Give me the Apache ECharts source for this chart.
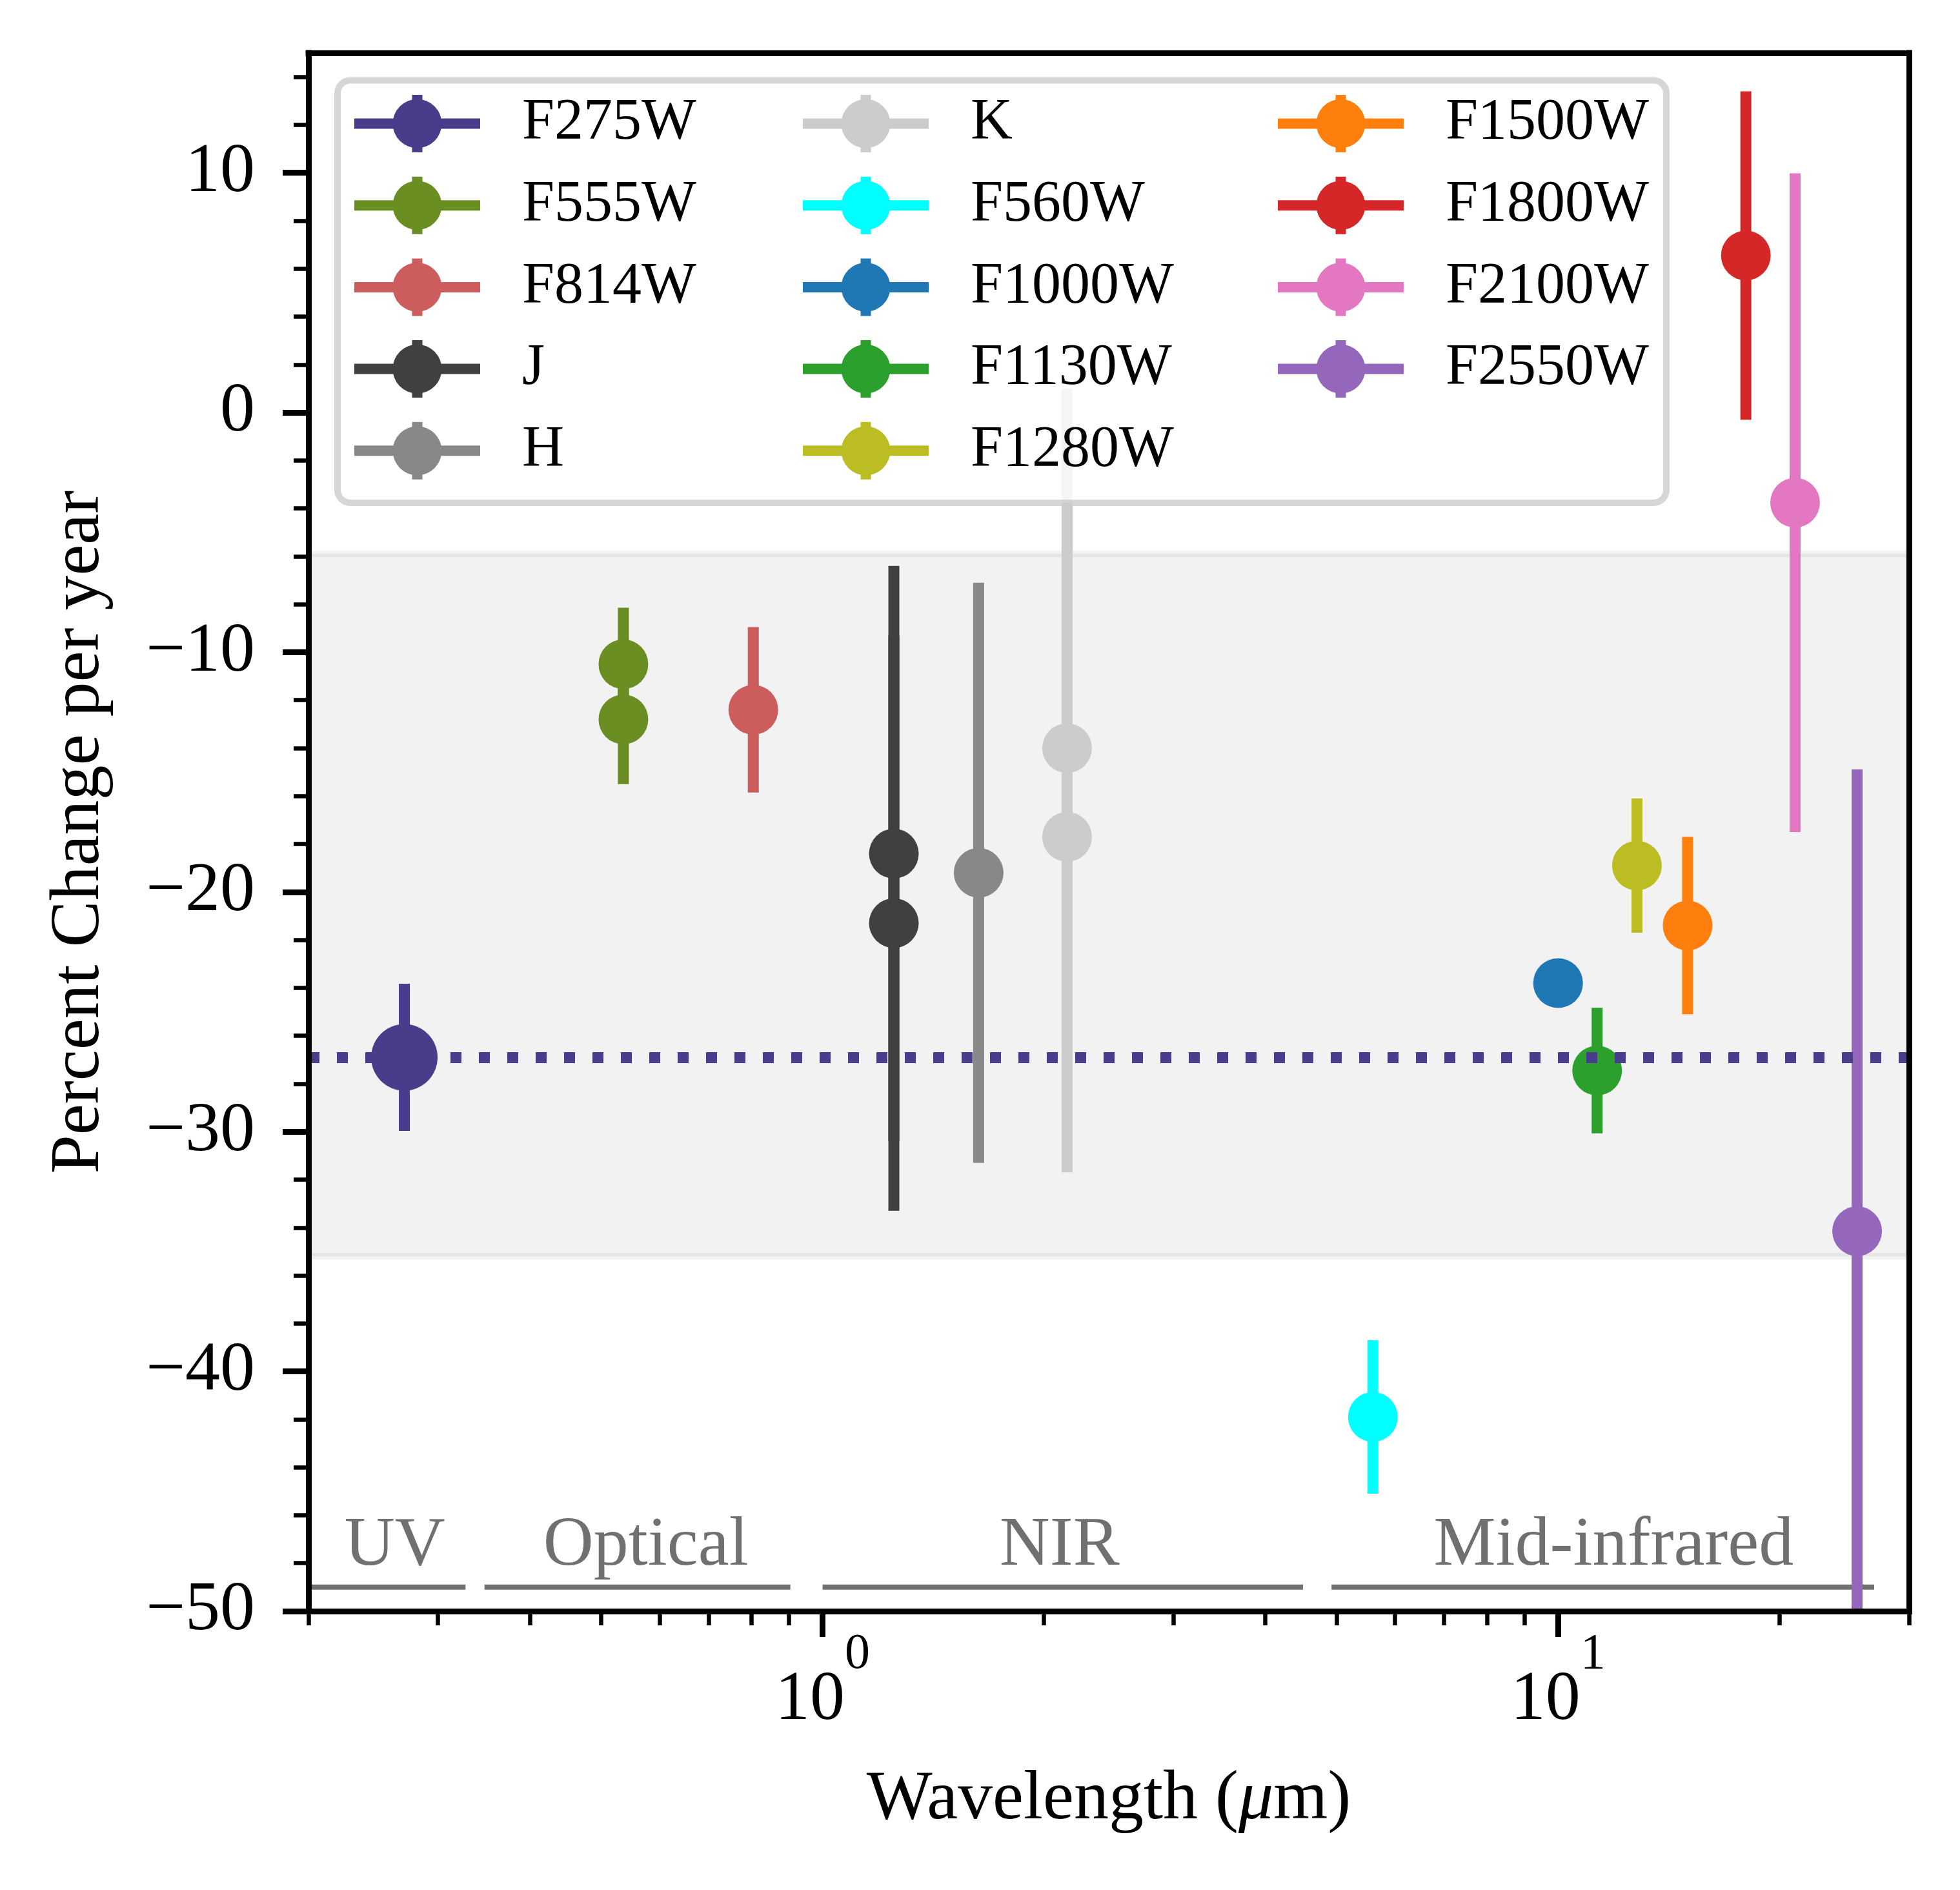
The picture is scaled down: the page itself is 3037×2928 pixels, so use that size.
<!DOCTYPE html>
<html><head><meta charset="utf-8">
<script src="https://cdn.jsdelivr.net/npm/echarts@6/dist/echarts.min.js"></script>
<style>html,body{margin:0;padding:0;background:#fff}#c{width:3037px;height:2928px}</style>
</head><body><div id="c"></div>
<script>
// ---------------- data ----------------
const filters = ['F275W','F555W','F814W','J','H','K','F560W','F1000W','F1130W','F1280W','F1500W','F1800W','F2100W','F2550W'];
const colors = ['#483D8B','#6B8E23','#CD5C5C','#404040','#888888','#cccccc','#00ffff','#1f77b4','#2ca02c','#bcbd22','#ff7f0e','#d62728','#e377c2','#9467bd'];
// one inner list per filter: wavelength (um), percent change per year, 1-sigma error
const wavelengths = [[0.27],[0.536,0.536],[0.805],[1.25,1.25],[1.63],[2.15,2.15],[5.6],[10.0],[11.3],[12.8],[15.0],[18.0],[21.0],[25.5]];
const changes     = [[-26.9],[-10.5,-12.8],[-12.4],[-18.4,-21.3],[-19.2],[-14.0,-17.7],[-41.9],[-23.8],[-27.45],[-18.9],[-21.4],[6.55],[-3.76],[-34.15]];
const errors      = [[3.07],[2.36,2.7],[3.45],[12.0,12.0],[12.1],[15.0,14.0],[3.2],[0.5],[2.62],[2.8],[3.7],[6.85],[13.74],[19.26]];
const referenceLevel = -26.9;
const bandRange = [-35.2, -5.9];
const regionNames  = ['UV','Optical','NIR','Mid-infrared'];
const regionStart  = [0.2, 0.347, 1.0, 4.92];
const regionEnd    = [0.327, 0.904, 4.5, 26.9];
const regionLabelX = [0.262, 0.575, 2.1, 11.9];
const xRange = [0.2, 30];
const yRange = [-50, 15];
const xMajorTicks = [1, 10];
const xTickExponents = ['0', '1'];
const xMinorTicks = [0.2,0.3,0.4,0.5,0.6,0.7,0.8,0.9,2,3,4,5,6,7,8,9,20,30];
const yMajorTicks = [-50,-40,-30,-20,-10,0,10];
const yMinorTicks = [-48,-46,-44,-42,-38,-36,-34,-32,-28,-26,-24,-22,-18,-16,-14,-12,-8,-6,-4,-2,2,4,6,8,12,14];
const legendColumns = [
  ['F275W','F555W','F814W','J','H'],
  ['K','F560W','F1000W','F1130W','F1280W'],
  ['F1500W','F1800W','F2100W','F2550W']
];

// ---------------- styles ----------------
const FONT = 'Liberation Serif';
const regionLineY = -49.0;
const regionTextY = -47.3;
const regionColor = '#707070';
const iconPath = 'path://M0,36.5L195,36.5L195,52.5L0,52.5Z M89.5,0L105.5,0L105.5,89L89.5,89Z M59.5,44.5A38,38,0,1,1,135.5,44.5A38,38,0,1,1,59.5,44.5Z';
function markerRadius(name) { return name === 'F275W' ? 51.5 : 38.5; }

const chart = echarts.init(document.getElementById('c'), null, {renderer: 'canvas'});

function errRender(name) {
  const r = markerRadius(name);
  return function (params, api) {
    const x = api.value(0), y = api.value(1), e = api.value(2);
    const c = api.coord([x, y]);
    const top = api.coord([x, y + e]);
    const bot = api.coord([x, y - e]);
    const color = api.visual('color');
    return {
      type: 'group',
      children: [
        {type: 'line', shape: {x1: c[0], y1: top[1], x2: c[0], y2: bot[1]}, style: {stroke: color, lineWidth: 17}},
        {type: 'circle', shape: {cx: c[0], cy: c[1], r: r}, style: {fill: color}}
      ]
    };
  };
}

const series = [];
series.push({
  name: 'band', type: 'line', data: [], z: 1, silent: true,
  markArea: {
    silent: true,
    itemStyle: {color: 'rgba(0,0,0,0.05)', borderColor: 'rgba(0,0,0,0.05)', borderWidth: 10},
    data: [[{xAxis: xRange[0], yAxis: bandRange[1]}, {xAxis: xRange[1], yAxis: bandRange[0]}]]
  }
});
series.push({
  name: 'reference', type: 'line', data: [], z: 1, silent: true,
  markLine: {
    silent: true, symbol: 'none', label: {show: false},
    lineStyle: {color: colors[0], width: 17, type: [17, 27], cap: 'butt'},
    data: [{yAxis: referenceLevel}]
  }
});
series.push({
  name: 'regions', type: 'custom', silent: true, z: 2,
  data: regionNames.map((n, i) => [regionStart[i], regionEnd[i], regionLabelX[i]]),
  encode: {x: [0, 1, 2]},
  renderItem: function (params, api) {
    const p1 = api.coord([api.value(0), regionLineY]);
    const p2 = api.coord([api.value(1), regionLineY]);
    const pt = api.coord([api.value(2), regionTextY]);
    return {
      type: 'group',
      children: [
        {type: 'line', shape: {x1: p1[0], y1: p1[1], x2: p2[0], y2: p2[1]}, style: {stroke: regionColor, lineWidth: 8}},
        {type: 'text', x: pt[0], y: pt[1], style: {text: regionNames[params.dataIndex], fill: regionColor, fontSize: 108, fontFamily: FONT, align: 'center', verticalAlign: 'middle'}}
      ]
    };
  }
});
filters.forEach((f, i) => {
  series.push({
    name: f, type: 'custom', z: 3, clip: true,
    itemStyle: {color: colors[i]},
    data: wavelengths[i].map((w, j) => [w, changes[i][j], errors[i][j]]),
    encode: {x: 0, y: 1},
    renderItem: errRender(f)
  });
});

const legendLeft = [549, 1244, 1980];
const legends = legendColumns.map((col, k) => ({
  orient: 'vertical', left: legendLeft[k], top: 146.5, padding: 0, z: 10,
  itemWidth: 195, itemHeight: 89, itemGap: 36.7, selectedMode: false,
  itemStyle: {borderWidth: 0},
  textStyle: {fontSize: 90, fontFamily: FONT, color: '#000', lineHeight: 89, padding: [0, 0, 0, 60]},
  data: col.map(n => ({name: n, icon: iconPath, itemStyle: {color: colors[filters.indexOf(n)], borderWidth: 0}}))
}));

const spine = {show: true, onZero: false, lineStyle: {color: '#000', width: 9, cap: 'square'}};
const hiddenLine = {show: false, onZero: false};
const noAxisBits = {axisLabel: {show: false}, splitLine: {show: false}, minorTick: {show: false}};

const option = {
  animation: false,
  backgroundColor: '#fff',
  textStyle: {fontFamily: FONT},
  grid: {left: 478, right: 79, top: 82, bottom: 432, containLabel: false, outerBoundsMode: 'none'},
  graphic: [{
    type: 'rect', z: 5, silent: true,
    shape: {x: 523, y: 124.5, width: 2059, height: 654.5, r: 20},
    style: {fill: 'rgba(255,255,255,0.8)', stroke: 'rgba(204,204,204,0.8)', lineWidth: 10}
  }],
  legend: legends,
  xAxis: [
    {
      type: 'log', logBase: 10, min: xRange[0], max: xRange[1], position: 'bottom', z: 10,
      axisLine: spine,
      axisTick: {show: true, customValues: xMajorTicks, length: 40, lineStyle: {color: '#000', width: 9}},
      axisLabel: {
        show: true, customValues: xMajorTicks, margin: 29, color: '#000',
        formatter: function (v) {
          let idx = xMajorTicks.findIndex(t => Math.abs(t - v) < 1e-9 * Math.max(1, t));
          const e = idx >= 0 ? xTickExponents[idx] : String(Math.round(Math.log10(v)));
          return '{b|10}{s|' + e + '}';
        },
        rich: {
          b: {fontSize: 108, fontFamily: FONT, color: '#000', lineHeight: 220, verticalAlign: 'middle'},
          s: {fontSize: 78, fontFamily: FONT, color: '#000', lineHeight: 110, verticalAlign: 'top'}
        }
      },
      splitLine: {show: false}, minorTick: {show: false},
      name: 'Wavelength ({i|μ}m)', nameLocation: 'middle', nameGap: 239,
      nameTextStyle: {fontSize: 108, fontFamily: FONT, color: '#000',
        rich: {i: {fontSize: 108, fontFamily: FONT, fontStyle: 'italic', color: '#000'}}}
    },
    Object.assign({
      type: 'log', logBase: 10, min: xRange[0], max: xRange[1], position: 'bottom', z: 9,
      axisLine: hiddenLine,
      axisTick: {show: true, customValues: xMinorTicks, length: 22, lineStyle: {color: '#000', width: 6.5}}
    }, noAxisBits),
    Object.assign({
      type: 'log', logBase: 10, min: xRange[0], max: xRange[1], position: 'top', z: 10,
      axisLine: spine, axisTick: {show: false}
    }, noAxisBits)
  ],
  yAxis: [
    {
      type: 'value', min: yRange[0], max: yRange[1], position: 'left', z: 10,
      axisLine: spine,
      axisTick: {show: true, customValues: yMajorTicks, length: 40, lineStyle: {color: '#000', width: 9}},
      axisLabel: {show: true, customValues: yMajorTicks, margin: 83, fontSize: 108, fontFamily: FONT, color: '#000',
        formatter: v => String(v).replace('-', '\u2212')},
      splitLine: {show: false}, minorTick: {show: false},
      name: 'Percent Change per year', nameLocation: 'middle', nameGap: 300,
      nameTextStyle: {fontSize: 108, fontFamily: FONT, color: '#000'}
    },
    Object.assign({
      type: 'value', min: yRange[0], max: yRange[1], position: 'left', z: 9,
      axisLine: hiddenLine,
      axisTick: {show: true, customValues: yMinorTicks, length: 23, lineStyle: {color: '#000', width: 6.5}}
    }, noAxisBits),
    Object.assign({
      type: 'value', min: yRange[0], max: yRange[1], position: 'right', z: 10,
      axisLine: spine, axisTick: {show: false}
    }, noAxisBits)
  ],
  series: series
};
chart.setOption(option);
</script>
</body></html>
